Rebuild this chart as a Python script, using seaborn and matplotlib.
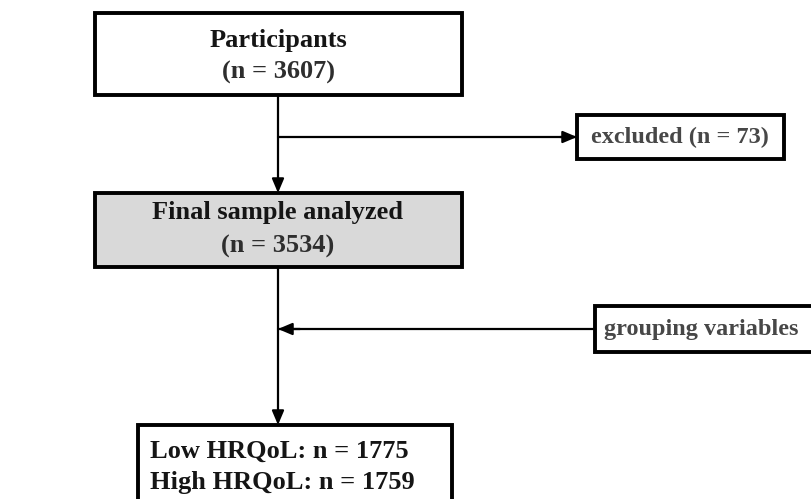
import matplotlib
matplotlib.use("Agg")
import matplotlib.pyplot as plt
import seaborn as sns
from matplotlib.patches import Rectangle

# flow data
stages = ["Participants", "Final sample analyzed"]
stage_n = [3607, 3534]
excluded_label = "excluded"
excluded_n = 73
grouping_label = "grouping variables"
group_labels = ["Low HRQoL", "High HRQoL"]
group_n = [1775, 1759]

sns.set_style("white")
plt.rcParams['font.family'] = ['Liberation Serif', 'DejaVu Serif']

fig = plt.figure(figsize=(8.11, 4.99), dpi=100)
ax = fig.add_axes([0, 0, 1, 1])
ax.set_xlim(0, 811)
ax.set_ylim(499, 0)
ax.axis('off')

box_lw = 2.8
line_lw = 1.6
dark = "#151515"
grey = "#474747"


def box(x0, y0, x1, y1, fill="white"):
    ax.add_patch(Rectangle((x0, y0), x1 - x0, y1 - y0, facecolor=fill,
                           edgecolor="black", lw=box_lw, zorder=2))


def arrow(x0, y0, x1, y1):
    ax.annotate("", xy=(x1, y1), xytext=(x0, y0),
                arrowprops=dict(arrowstyle="-|>,head_length=0.85,head_width=0.36",
                                lw=line_lw, color="black",
                                shrinkA=0, shrinkB=0), zorder=3)


cx = 278
# boxes
box(95, 13, 462, 95)
box(577, 115, 784, 159)
box(95, 193, 462, 267, fill="#d9d9d9")
box(595, 306, 830, 352)
box(138, 425, 452, 505)

# connectors
arrow(cx, 95, cx, 193)
ax.plot([cx, 577], [137, 137], color="black", lw=line_lw, zorder=1)
arrow(560, 137, 577, 137)
arrow(cx, 267, cx, 425)
ax.plot([cx, 595], [329, 329], color="black", lw=line_lw, zorder=1)
arrow(300, 329, cx, 329)

fs = 19
kw = dict(fontweight="bold", ha="center", va="center", zorder=4)
ax.text(cx, 40, stages[0], fontsize=fs, color=dark, **kw)
ax.text(cx, 72, f"(n = {stage_n[0]})", fontsize=fs, color="#2e2e2e", **kw)
ax.text(cx, 212, stages[1], fontsize=fs, color=dark, **kw)
ax.text(cx, 246, f"(n = {stage_n[1]})", fontsize=fs, color="#2e2e2e", **kw)
ax.text(680, 137, f"{excluded_label} (n = {excluded_n})", fontsize=17.5,
        color=grey, **kw)
ax.text(701, 329, grouping_label, fontsize=17.5, color=grey, **kw)

for i, (lab, n) in enumerate(zip(group_labels, group_n)):
    ax.text(150, 451 + 31 * i, f"{lab}: n = {n}", fontsize=fs, color=dark,
            fontweight="bold", ha="left", va="center", zorder=4)

sns.despine(left=True, bottom=True)
fig.savefig("out.png", dpi=100)
